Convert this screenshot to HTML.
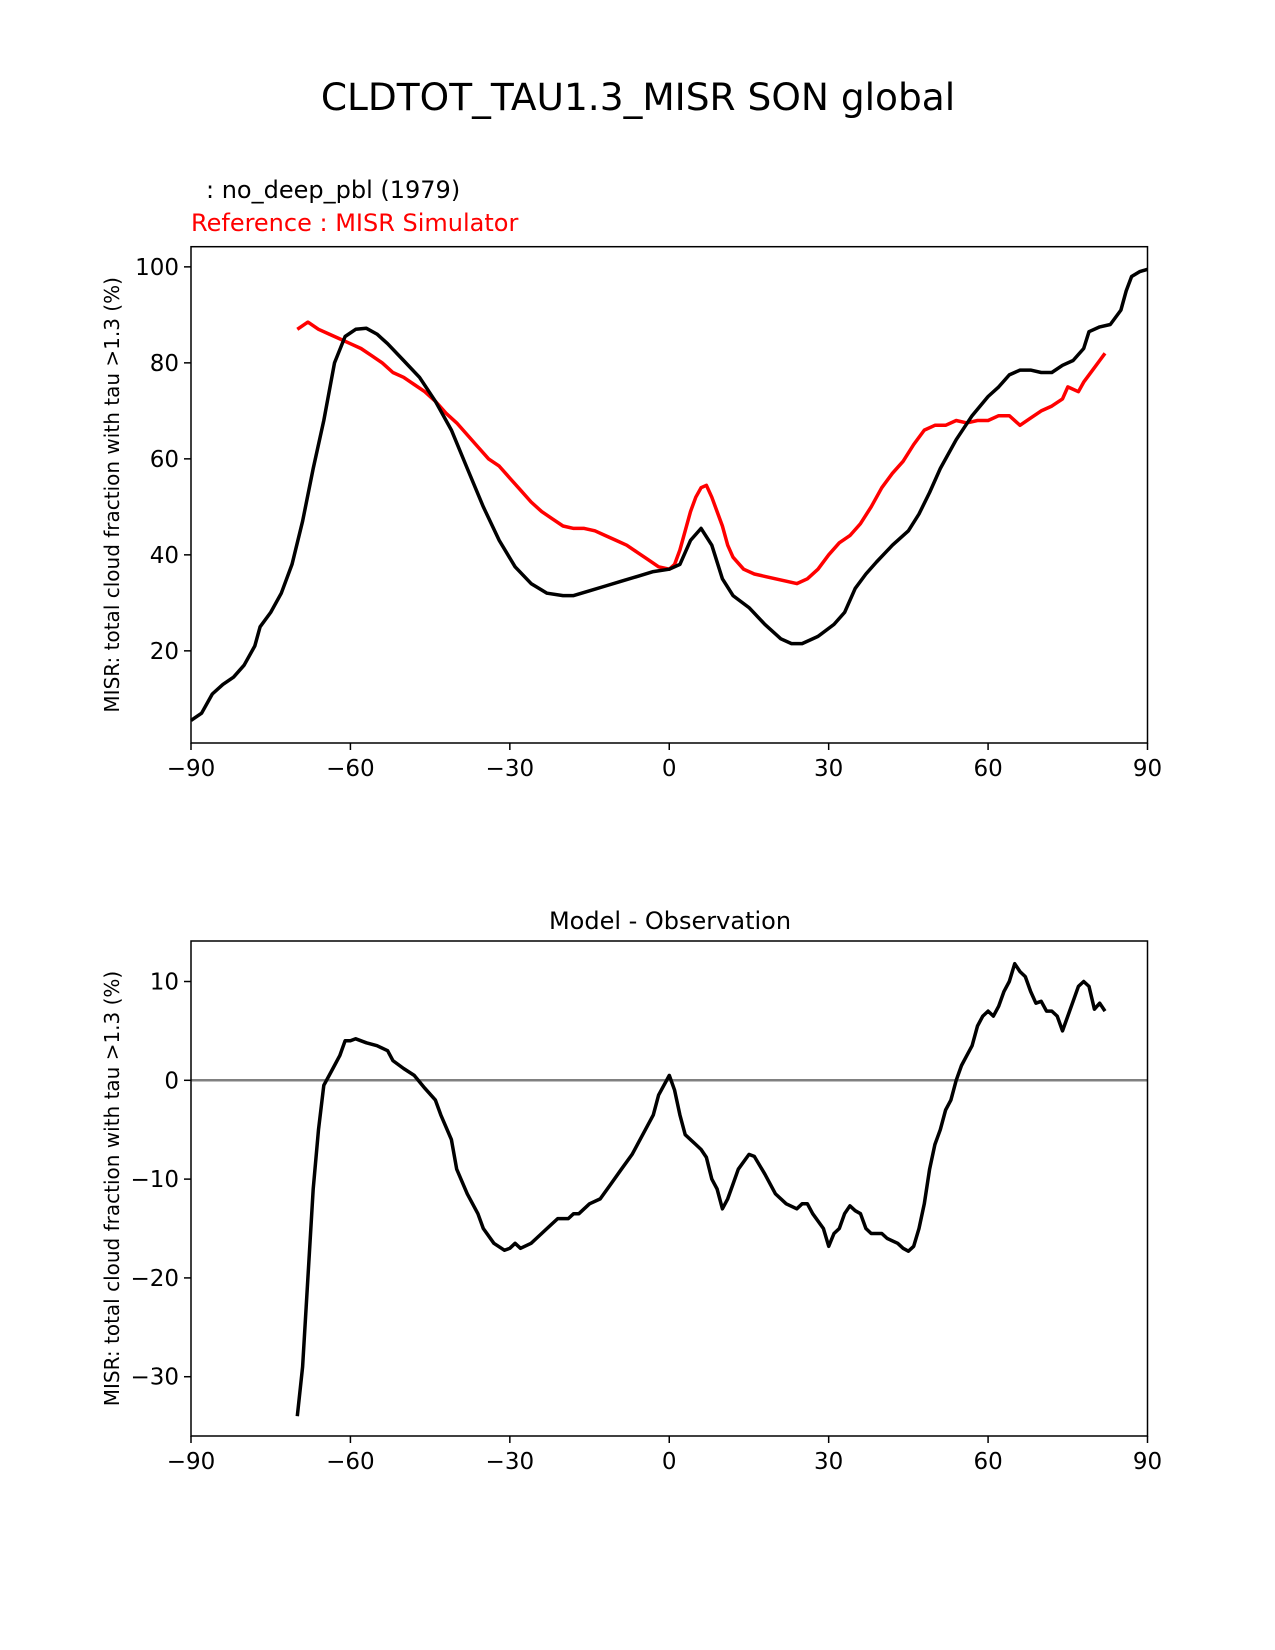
<!DOCTYPE html>
<html><head><meta charset="utf-8"><style>
html,body{margin:0;padding:0;background:#fff}
svg{display:block;font-family:"DejaVu Sans","Liberation Sans",sans-serif}
</style></head><body>
<svg id="fig" width="1275" height="1650" viewBox="0 0 1275 1650" xmlns="http://www.w3.org/2000/svg">
<text x="638" y="110" font-size="37.5" text-anchor="middle">CLDTOT_TAU1.3_MISR SON global</text>
<text x="206" y="198" font-size="24">: no_deep_pbl (1979)</text>
<text x="191" y="231" font-size="24" fill="#ff0000">Reference : MISR Simulator</text>
<text x="670" y="929" font-size="24" text-anchor="middle">Model - Observation</text>
<g id="topchart"></g>
<g id="botchart"></g>
</svg>
<script>
const xTicks=[-90,-60,-30,0,30,60,90];
const topYTicks=[20,40,60,80,100];
const botYTicks=[-30,-20,-10,0,10];
const modelLat=[-90,-88,-86,-84,-82,-80,-78,-77,-75,-73,-71,-69,-67,-65,-63,-61,-59,-57,-55,-53,-50,-47,-44,-41,-38,-35,-32,-29,-26,-23,-20,-18,-15,-12,-9,-6,-3,0,2,4,6,8,10,12,15,18,21,23,25,28,31,33,35,37,39,42,45,47,49,51,54,57,60,62,64,66,68,70,72,74,76,78,79,81,83,85,86,87,88.5,90];
const modelVal=[5.5,7,11,13,14.5,17,21,25,28,32,38,47,58,68,80,85.5,87,87.2,86,84,80.5,77,72,66,58,50,43,37.5,34,32,31.5,31.5,32.5,33.5,34.5,35.5,36.5,37,38,43,45.5,42,35,31.5,29,25.5,22.5,21.5,21.5,23,25.5,28,33,36,38.5,42,45,48.5,53,58,64,69,73,75,77.5,78.5,78.5,78,78,79.5,80.5,83,86.5,87.5,88,91,95,98,99,99.5];
const obsLat=[-70,-68,-66,-64,-62,-60,-58,-56,-54,-52,-50,-48,-46,-44,-42,-40,-38,-36,-34,-32,-30,-28,-26,-24,-22,-20,-18,-16,-14,-12,-10,-8,-6,-4,-2,0,1,2,3,4,5,6,7,8,9,10,11,12,14,16,18,20,22,24,26,28,30,32,34,36,38,40,42,44,46,48,50,52,54,56,58,60,62,64,66,68,70,72,74,75,77,78,80,81,82];
const obsVal=[87,88.5,87,86,85,84,83,81.5,80,78,77,75.5,74,72,69.5,67.5,65,62.5,60,58.5,56,53.5,51,49,47.5,46,45.5,45.5,45,44,43,42,40.5,39,37.5,37,38,41,45,49,52,54,54.5,52,49,46,42,39.5,37,36,35.5,35,34.5,34,35,37,40,42.5,44,46.5,50,54,57,59.5,63,66,67,67,68,67.5,68,68,69,69,67,68.5,70,71,72.5,75,74,76,79,80.5,82];
const diffLat=[-70,-69,-68,-67,-66,-65,-64,-63,-62,-61,-60,-59,-57,-55,-53,-52,-50,-48,-46,-44,-43,-41,-40,-38,-36,-35,-33,-31,-30,-29,-28,-26,-25,-23,-21,-19,-18,-17,-15,-13,-11,-9,-7,-5,-3,-2,-1,0,1,2,3,5,6,7,8,9,10,11,12,13,15,16,18,20,22,24,25,26,27,29,30,31,32,33,34,35,36,37,38,40,41,43,44,45,46,47,48,49,50,51,52,53,54,55,56,57,58,59,60,61,62,63,64,65,66,67,68,69,70,71,72,73,74,75,76,77,78,79,80,81,82];
const diffVal=[-34,-29,-20,-11,-5,-0.5,0.5,1.5,2.5,4,4,4.2,3.8,3.5,3,2,1.2,0.5,-0.8,-2,-3.5,-6,-9,-11.5,-13.5,-15,-16.5,-17.2,-17,-16.5,-17,-16.5,-16,-15,-14,-14,-13.5,-13.5,-12.5,-12,-10.5,-9,-7.5,-5.5,-3.5,-1.5,-0.5,0.5,-1,-3.5,-5.5,-6.5,-7,-7.8,-10,-11,-13,-12,-10.5,-9,-7.5,-7.7,-9.5,-11.5,-12.5,-13,-12.5,-12.5,-13.5,-15,-16.8,-15.5,-15,-13.5,-12.7,-13.2,-13.5,-15,-15.5,-15.5,-16,-16.5,-17,-17.3,-16.8,-15,-12.5,-9,-6.5,-5,-3,-2,0,1.5,2.5,3.5,5.5,6.5,7,6.5,7.5,9,10,11.8,11,10.5,9,7.8,8,7,7,6.5,5,6.5,8,9.5,10,9.5,7.2,7.8,7];

const NS='http://www.w3.org/2000/svg';
function mk(parent,tag,attrs){const e=document.createElementNS(NS,tag);for(const k in attrs)e.setAttribute(k,attrs[k]);parent.appendChild(e);return e;}
const AL=191,AR=1147.5;
const xs=v=>AL+(v+90)/180*(AR-AL);
function axes(g,T,B,y0,y1,yt,ylab){
  const ys=v=>B-(v-y0)/(y1-y0)*(B-T);
  xTicks.forEach(t=>{
    const l=mk(g,'line',{x1:xs(t),x2:xs(t),y1:B,y2:B+7,stroke:'#000','stroke-width':1.5});
    
    
    const tx=mk(g,'text',{x:xs(t),y:B+33,'font-size':23,'text-anchor':'middle'});
    tx.textContent=(t<0?'\u2212'+(-t):''+t);
    
    
  });
  yt.forEach(t=>{
    const l=mk(g,'line',{x1:AL-7,x2:AL,y1:ys(t),y2:ys(t),stroke:'#000','stroke-width':1.5});
    
    
    const tx=mk(g,'text',{x:AL-12,y:ys(t)+8,'font-size':23,'text-anchor':'end'});
    tx.textContent=(t<0?'\u2212'+(-t):''+t);
    
    
  });
  const yl=mk(g,'text',{x:0,y:0,'font-size':20,'text-anchor':'middle',transform:`translate(119,${(T+B)/2}) rotate(-90)`});
  yl.textContent=ylab;
  
  
  return ys;
}
function drawLine(g,lat,val,ys,color,name){
  const d=lat.map((x,i)=>(i?'L':'M')+xs(x).toFixed(1)+','+ys(val[i]).toFixed(1)).join('');
  const p=mk(g,'path',{d:d,fill:'none',stroke:color,'stroke-width':3.5,'stroke-linejoin':'round'});
  
  
}
const ylab='MISR: total cloud fraction with tau >1.3 (%)';
const gTop=document.getElementById('topchart');
const T1=246.7,B1=743;
const ys1=axes(gTop,T1,B1,0.8,104.2,topYTicks,ylab);
drawLine(gTop,obsLat,obsVal,ys1,'#ff0000','reference-line');
drawLine(gTop,modelLat,modelVal,ys1,'#000000','model-line');
const f1=mk(gTop,'rect',{x:AL,y:T1,width:AR-AL,height:B1-T1,fill:'none',stroke:'#000','stroke-width':1.5});



const gBot=document.getElementById('botchart');
const T2=941,B2=1436;
const ys2=axes(gBot,T2,B2,-36,14.1,botYTicks,ylab);
const z=mk(gBot,'line',{x1:AL,x2:AR,y1:ys2(0),y2:ys2(0),stroke:'#808080','stroke-width':2.5});


drawLine(gBot,diffLat,diffVal,ys2,'#000000','difference-line');
const f2=mk(gBot,'rect',{x:AL,y:T2,width:AR-AL,height:B2-T2,fill:'none',stroke:'#000','stroke-width':1.5});


</script>
</body></html>
